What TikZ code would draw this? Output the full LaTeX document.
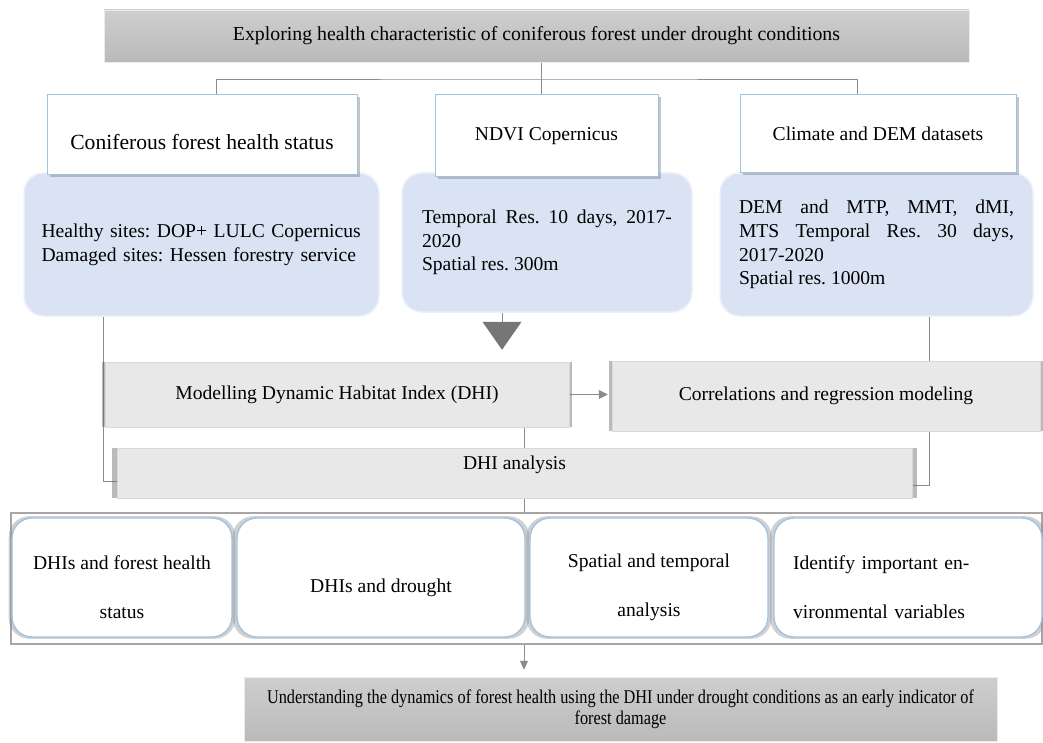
\documentclass[tikz,border=0pt]{standalone}
\usepackage{fontspec}
\setmainfont{Liberation Serif}
\newfontfamily\schmal[FakeStretch=0.84]{Liberation Serif}
\usetikzlibrary{
  arrows.meta, % Pfeilspitzen
  shadows, % Schatten der Kaesten
  backgrounds % Linien hinter die Kaesten
}
\frenchspacing

\definecolor{topgrau}{RGB}{206,206,206}
\definecolor{untergrau}{RGB}{186,186,186}
\definecolor{kastengrau}{RGB}{232,232,232}
\definecolor{hellblau}{RGB}{218,227,243}
\definecolor{randblau}{RGB}{160,195,228}
\definecolor{liniengrau}{RGB}{140,140,140}
\definecolor{dreieckgrau}{RGB}{118,118,118}

\begin{document}
\begin{tikzpicture}[x=1pt, y=-1pt,
    font=\fontsize{19.6}{23.6}\selectfont, % Grundschrift
    conn/.style={liniengrau, line width=0.8pt}, % Verbindungslinien
    headbox/.style={top color=topgrau, bottom color=untergrau,
      draw=black!8, line width=0.5pt, inner sep=0pt, align=center},
    titlebox/.style={fill=white, draw=randblau, line width=1pt, inner sep=0pt,
      drop shadow={shadow xshift=2.5pt, shadow yshift=-2.5pt, opacity=0.45}},
    infobox/.style={fill=hellblau, draw=white!50!hellblau, line width=1.5pt,
      rounded corners=20pt, inner sep=0pt, text width=#1, align=justify,
      font=\fontsize{19.6}{23.7}\selectfont},
    greybox/.style={fill=kastengrau, draw=black!15, line width=0.5pt, inner sep=0pt,
      general shadow={shadow scale=1.012, fill=black!60, opacity=0.45}},
    resultbox/.style={fill=white, draw=randblau, line width=1.4pt,
      rounded corners=20pt, inner sep=0pt, align=center,
      font=\fontsize{19.6}{49}\selectfont,
      general shadow={shadow scale=1.03, fill=black!45, opacity=0.4}},
  ]
  \useasboundingbox (0,0) rectangle (1043,743);

  % Hilfspunkte
  \def\hoch{\rule{0pt}{34pt}}
  \coordinate (bus) at (541,79);
  \coordinate (lzw) at (216,79);
  \coordinate (rzw) at (857,79);
  \coordinate (tri) at (502,0);
  \coordinate (lli) at (103,0);
  \coordinate (rli) at (929,0);
  \coordinate (mli) at (524,0);

  % Kopf
  \node[headbox, minimum width=865pt, minimum height=52pt,
    font=\fontsize{19.8}{24}\selectfont] (top) at (536.5,36)
    {Exploring health characteristic of coniferous forest under drought conditions};

  % Datenquellen
  \node[infobox=320pt, align=left, minimum width=355pt, minimum height=143pt]
    (cfb) at (201.5,244.5)
    {Healthy sites: DOP+ LULC Copernicus\\Damaged sites: Hessen forestry service};
  \node[infobox=250pt, minimum width=290pt, minimum height=139pt]
    (ndvib) at (547,242.5)
    {Temporal Res. 10 days, 2017-\linebreak 2020\newline Spatial res. 300m};
  \node[infobox=275pt, minimum width=313pt, minimum height=143pt]
    (cdb) at (876.5,244.5)
    {DEM and MTP, MMT, dMI,\linebreak MTS Temporal Res. 30 days,\linebreak
     2017-2020\newline Spatial res. 1000m};

  \node[titlebox, minimum width=310pt, minimum height=80pt,
    font=\fontsize{21.6}{26}\selectfont] (cft) at (202,135)
    {\rule{0pt}{30pt}Coniferous forest health status};
  \node[titlebox, minimum width=223pt, minimum height=82pt] (ndvit) at (546.5,136)
    {NDVI Copernicus};
  \node[titlebox, minimum width=276pt, minimum height=78pt] (cdt) at (878,134)
    {Climate and DEM datasets};

  % Modellierung
  \node[greybox, minimum width=464pt, minimum height=65pt] (model) at (337,394.5)
    {Modelling Dynamic Habitat Index (DHI)};
  \node[greybox, minimum width=428pt, minimum height=70pt] (corr) at (826,396)
    {Correlations and regression modeling};
  \node[greybox, minimum width=795pt, minimum height=50pt] (dhia) at (514.5,473)
    {\rule[-20pt]{0pt}{20pt}DHI analysis};

  % Analysen
  \draw[draw=black!35, line width=1.2pt, fill=white] (11,513) rectangle (1042,644);
  \foreach \n/\x/\w/\t in {b1/122/220/{DHIs and forest health\\status},
                           b2/381/288/{DHIs and drought},
                           b3/649/238/{Spatial and temporal\\analysis}}
    \node[resultbox, minimum width=\w pt, minimum height=119pt] (\n) at (\x,577.5)
      {\hoch\t};
  \node[resultbox, minimum width=268pt, minimum height=119pt, text width=230pt,
    align=left] (b4) at (908,577.5)
    {\hoch Identify important en-\\vironmental variables};

  % Ergebnis
  \node[headbox, minimum width=753pt, minimum height=64pt,
    font=\schmal\fontsize{19.4}{21}\selectfont] (final) at (620.5,709)
    {Understanding the dynamics of forest health using the DHI under drought conditions as an early indicator of\\forest damage};

  % Verbindungen
  \begin{pgfonlayer}{background}
    \draw[conn] (top.south -| bus) -- (ndvit.north -| bus);
    \draw[conn] (cft.north -| lzw) |- (bus) -| (cdt.north -| rzw);
    \draw[conn, -{Triangle[width=39pt, length=28pt, color=dreieckgrau]},
      shorten >=12pt] (ndvib.south -| tri) -- (model.north -| tri);
    \draw[conn, -{Triangle[width=9pt, length=9pt]}, shorten >=4pt]
      (model.east) -- (corr.west |- model.east);
    \draw[conn] (cfb.south -| lli) |- ([yshift=-8pt]dhia.west);
    \draw[conn] (cdb.south -| rli) |- ([yshift=-12pt]dhia.east);
    \draw[conn, -{Triangle[width=8pt, length=9pt]}, shorten >=7pt]
      (model.south -| mli) -- (final.north -| mli);
  \end{pgfonlayer}
\end{tikzpicture}
\end{document}
